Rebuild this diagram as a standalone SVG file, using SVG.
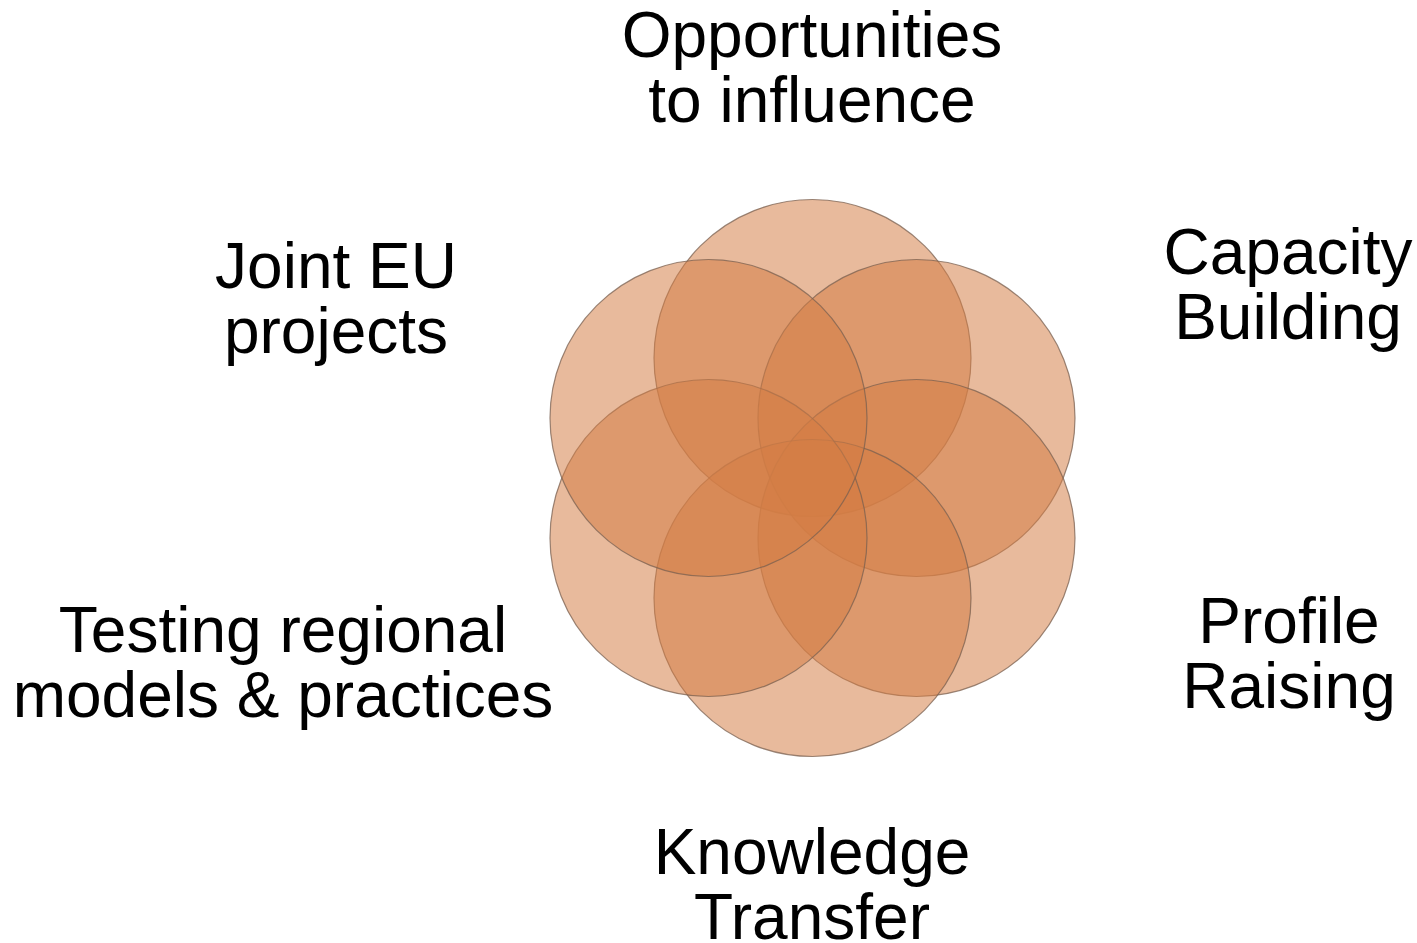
<svg xmlns="http://www.w3.org/2000/svg" width="1417" height="943" viewBox="0 0 1417 943">
<style>
.c{fill:#D47D44;fill-opacity:0.53;stroke:#7a6050;stroke-opacity:0.75;stroke-width:1.2}
.t{font-family:"Liberation Sans",Arial,sans-serif;font-size:64px;fill:#000;text-anchor:middle}
</style>
<rect width="1417" height="943" fill="#fff"/>
<g id="circles">
<circle id="c-top" class="c" cx="812.5" cy="358" r="158.5"/>
<circle id="c-ur" class="c" cx="916.5" cy="418" r="158.5"/>
<circle id="c-lr" class="c" cx="916.5" cy="538" r="158.5"/>
<circle id="c-bottom" class="c" cx="812.5" cy="598" r="158.5"/>
<circle id="c-ll" class="c" cx="708.5" cy="538" r="158.5"/>
<circle id="c-ul" class="c" cx="708.5" cy="418" r="158.5"/>
</g>
<g id="connectors"/>
<g id="label-opportunities"><text class="t" x="812" y="57">Opportunities</text><text class="t" x="812" y="122">to influence</text></g>
<g id="label-capacity"><text class="t" x="1288" y="274">Capacity</text><text class="t" x="1288" y="339">Building</text></g>
<g id="label-profile"><text class="t" x="1289" y="643">Profile</text><text class="t" x="1289" y="708">Raising</text></g>
<g id="label-knowledge"><text class="t" x="812" y="874">Knowledge</text><text class="t" x="812" y="939">Transfer</text></g>
<g id="label-testing"><text class="t" x="283" y="652">Testing regional</text><text class="t" x="283" y="717">models &amp; practices</text></g>
<g id="label-joint"><text class="t" x="336" y="288">Joint EU</text><text class="t" x="336" y="353">projects</text></g>
</svg>
